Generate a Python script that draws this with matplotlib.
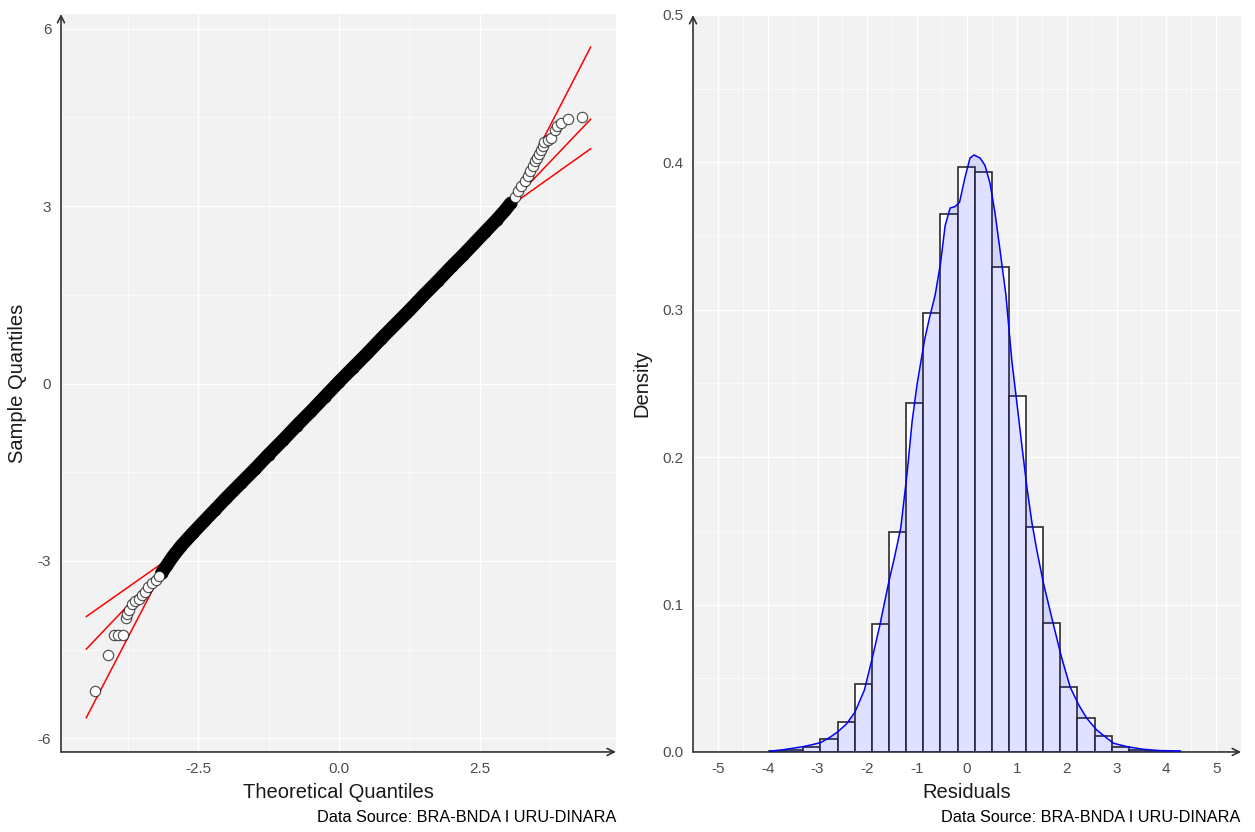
import numpy as np
import matplotlib.pyplot as plt
from matplotlib.ticker import FixedLocator

plt.rcParams['font.family'] = ['Liberation Sans', 'DejaVu Sans']
plt.rcParams['axes.unicode_minus'] = False

# ---------------- Q-Q plot data ----------------
# dense part of the sample (thousands of overlapping points)
qq_dense_theo = [-3.15, -3.05, -2.95, -2.8, -2.6, -2.4, -2.2, -2.0, -1.75, -1.5,
                 -1.25, -1.0, -0.75, -0.5, -0.25, 0.0, 0.25, 0.5, 0.75, 1.0,
                 1.25, 1.5, 1.75, 2.0, 2.2, 2.4, 2.6, 2.8, 2.95, 3.05]
qq_dense_samp = [-3.2, -3.06, -2.92, -2.74, -2.53, -2.33, -2.13, -1.93, -1.69, -1.45,
                 -1.20, -0.96, -0.71, -0.47, -0.22, 0.03, 0.27, 0.51, 0.76, 1.0,
                 1.24, 1.49, 1.73, 1.98, 2.17, 2.37, 2.57, 2.77, 2.93, 3.05]
# individual points in the tails
qq_tail_theo = [-4.34, -4.10, -3.99, -3.92, -3.84, -3.79, -3.76, -3.73, -3.68, -3.62,
                -3.56, -3.50, -3.44, -3.39, -3.33, -3.26, -3.20,
                3.12, 3.18, 3.24, 3.30, 3.36, 3.40, 3.45, 3.48, 3.52, 3.55,
                3.59, 3.62, 3.65, 3.71, 3.76, 3.83, 3.87, 3.94, 4.07, 4.31]
qq_tail_samp = [-5.20, -4.59, -4.25, -4.25, -4.25, -3.97, -3.90, -3.83, -3.72, -3.67,
                -3.64, -3.58, -3.53, -3.44, -3.37, -3.32, -3.26,
                3.16, 3.26, 3.34, 3.43, 3.51, 3.60, 3.68, 3.76, 3.82, 3.88,
                3.95, 4.02, 4.08, 4.12, 4.16, 4.28, 4.35, 4.41, 4.47, 4.51]

# reference line and confidence band ends
ref_theo = [-4.49, 4.47]
ref_samp = [-4.49, 4.47]
band_lo_theo = [-4.49, -3.10]
band_lo_hi = [-3.94, -3.01]
band_lo_lo = [-5.65, -3.10]
band_up_theo = [3.05, 4.47]
band_up_hi = [3.07, 5.69]
band_up_lo = [3.01, 3.97]

# ---------------- histogram of residuals ----------------
bin_left = [-3.975, -3.631, -3.287, -2.943, -2.599, -2.255, -1.911, -1.567,
            -1.223, -0.879, -0.535, -0.191, 0.153, 0.497, 0.841, 1.185,
            1.529, 1.873, 2.217, 2.561, 2.905, 3.249, 3.593, 3.937]
bin_width = 0.344
bin_density = [0.0005, 0.0012, 0.0036, 0.009, 0.020, 0.046, 0.0866, 0.149,
               0.237, 0.298, 0.365, 0.397, 0.3935, 0.329, 0.2415, 0.1526,
               0.0875, 0.044, 0.023, 0.011, 0.0036, 0.0012, 0.0004, 0.0002]

kde_x = [-3.96, -3.7, -3.5, -3.29, -3.1, -2.93, -2.75, -2.59, -2.42, -2.25,
         -2.06, -1.90, -1.75, -1.56, -1.45, -1.33, -1.2, -1.1, -1.0, -0.85,
         -0.75, -0.64, -0.53, -0.44, -0.34, -0.24, -0.15, -0.04, 0.06, 0.14,
         0.26, 0.36, 0.46, 0.56, 0.66, 0.78, 0.9, 1.0, 1.1, 1.2,
         1.3, 1.4, 1.53, 1.73, 1.89, 2.07, 2.24, 2.40, 2.60, 2.77,
         2.94, 3.21, 3.54, 3.88, 4.28]
kde_y = [0.0005, 0.0015, 0.0025, 0.0036, 0.005, 0.0065, 0.01, 0.0138, 0.019, 0.027,
         0.042, 0.064, 0.086, 0.117, 0.133, 0.152, 0.19, 0.225, 0.25, 0.28,
         0.295, 0.31, 0.332, 0.357, 0.369, 0.370, 0.373, 0.390, 0.403, 0.405,
         0.403, 0.398, 0.386, 0.366, 0.341, 0.310, 0.265, 0.237, 0.208, 0.180,
         0.156, 0.137, 0.115, 0.087, 0.065, 0.044, 0.032, 0.023, 0.015, 0.0104,
         0.0059, 0.0036, 0.0018, 0.0009, 0.0007]

caption = 'Data Source: BRA-BNDA I URU-DINARA'


def style(ax):
    ax.set_facecolor('#F2F2F2')
    for s in ax.spines.values():
        s.set_visible(False)
    ax.grid(which='major', color='white', lw=0.9)
    ax.grid(which='minor', color='white', lw=0.45)
    ax.set_axisbelow(True)
    ax.tick_params(which='both', length=0, labelsize=11, labelcolor='#4D4D4D')
    ax.tick_params(axis='x', pad=7)
    ax.tick_params(axis='y', pad=7)
    arrow = dict(arrowstyle='->,head_length=0.5,head_width=0.25', color='#333333',
                 lw=1.2, shrinkA=0, shrinkB=0)
    ax.annotate('', xy=(0, 1), xytext=(0, 0), xycoords='axes fraction', arrowprops=arrow)
    ax.annotate('', xy=(1, 0), xytext=(0, 0), xycoords='axes fraction', arrowprops=arrow)


fig = plt.figure(figsize=(12.55, 8.32), dpi=100)
ax1 = fig.add_axes([0.0486, 0.0962, 0.4422, 0.887])
ax2 = fig.add_axes([0.5522, 0.0962, 0.4367, 0.8858])

# ----- left: Q-Q plot -----
style(ax1)
ax1.plot(ref_theo, ref_samp, color='red', lw=1.1, zorder=2)
for hi, lo, t in [(band_lo_hi, band_lo_lo, band_lo_theo), (band_up_hi, band_up_lo, band_up_theo)]:
    ax1.plot(t, hi, color='red', lw=1.1, zorder=2)
    ax1.plot(t, lo, color='red', lw=1.1, zorder=2)
ax1.plot(qq_dense_theo, qq_dense_samp, color='black', lw=9.5, solid_capstyle='round', zorder=3)
ax1.scatter(qq_dense_theo, qq_dense_samp, s=60, facecolors='black', edgecolors='black',
            linewidths=0.9, zorder=3)
ax1.scatter(qq_tail_theo, qq_tail_samp, s=55, facecolors='white',
            edgecolors=(0, 0, 0, 0.65), linewidths=0.9, zorder=4)
ax1.set_xlim(-4.94, 4.92)
ax1.set_ylim(-6.23, 6.25)
ax1.xaxis.set_major_locator(FixedLocator([-2.5, 0, 2.5]))
ax1.xaxis.set_minor_locator(FixedLocator([-3.75, -1.25, 1.25, 3.75]))
ax1.yaxis.set_major_locator(FixedLocator([-6, -3, 0, 3, 6]))
ax1.yaxis.set_minor_locator(FixedLocator([-4.5, -1.5, 1.5, 4.5]))
ax1.set_xticklabels(['-2.5', '0.0', '2.5'])
ax1.set_yticklabels(['-6', '-3', '0', '3', '6'])
ax1.set_xlabel('Theoretical Quantiles', fontsize=14.5, color='#1a1a1a', labelpad=5)
ax1.set_ylabel('Sample Quantiles', fontsize=14.5, color='#1a1a1a', labelpad=8)

# ----- right: histogram + density -----
style(ax2)
ax2.bar(bin_left, bin_density, width=bin_width, align='edge', facecolor='white',
        edgecolor='#2b2b2b', lw=1.2, zorder=2)
ax2.fill_between(kde_x, kde_y, 0, color='blue', alpha=0.12, lw=0, zorder=3)
ax2.plot(kde_x, kde_y, color='blue', lw=1.1, zorder=4)
ax2.set_xlim(-5.5, 5.5)
ax2.set_ylim(0, 0.5)
ax2.xaxis.set_major_locator(FixedLocator(list(range(-5, 6))))
ax2.xaxis.set_minor_locator(FixedLocator([v + 0.5 for v in range(-6, 6)]))
ax2.yaxis.set_major_locator(FixedLocator([0, 0.1, 0.2, 0.3, 0.4, 0.5]))
ax2.yaxis.set_minor_locator(FixedLocator([0.05, 0.15, 0.25, 0.35, 0.45]))
ax2.set_xticklabels([str(v) for v in range(-5, 6)])
ax2.set_yticklabels(['0.0', '0.1', '0.2', '0.3', '0.4', '0.5'])
ax2.set_xlabel('Residuals', fontsize=14.5, color='#1a1a1a', labelpad=5)
ax2.set_ylabel('Density', fontsize=14.5, color='#1a1a1a', labelpad=8)

fig.text(616 / 1255, 1 - 817 / 832, caption, ha='right', va='center', fontsize=11.7)
fig.text(1240 / 1255, 1 - 817 / 832, caption, ha='right', va='center', fontsize=11.7)

fig.savefig('out.png', dpi=100, facecolor='white')
